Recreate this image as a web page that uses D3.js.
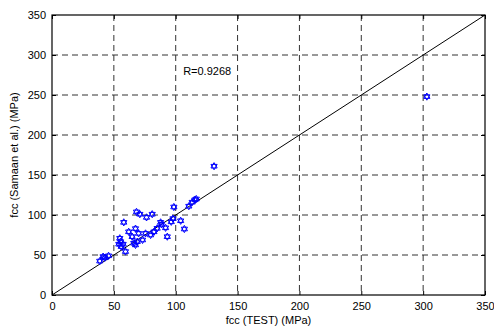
<!DOCTYPE html>
<html>
<head>
<meta charset="utf-8">
<script src="https://cdn.jsdelivr.net/npm/d3@7"></script>
<style>
  body { margin: 0; background: #fff; }
  svg { display: block; font-family: "Liberation Sans", Arial, sans-serif; }
</style>
</head>
<body>
<svg id="chart"></svg>
<script>
// measured fcc (TEST) and predicted fcc (Samaan et al.), MPa
const testVals = [38.6, 41.3, 42.7, 45.7, 54, 54.8, 55.4, 56, 57.5, 58, 59.4,
  62, 64.8, 66.1, 67.5, 67.5, 68.3, 68.9, 70, 71, 73.2, 75.6, 76.4, 79.7, 81,
  82.4, 85, 87.8, 88.6, 91.8, 93.2, 96.4, 97.8, 98.5, 104, 107, 110.6, 113.3,
  115.5, 116.6, 131, 303]
const predVals = [42.4, 48, 46.5, 49, 63.5, 70.9, 66.7, 60.5, 63.5, 90.8, 54.3,
  79, 72.9, 64.7, 62.6, 83, 103.9, 66.7, 77, 101, 68.8, 77, 97, 75, 101,
  79, 83.3, 90.8, 88.3, 84, 72.9, 91.5, 95.5, 110, 92.8, 82.5, 111, 116,
  119, 120, 161, 248]
const tickVals = [0, 50, 100, 150, 200, 250, 300, 350]
const rLabel = 'R=0.9268'
const xTitle = 'fcc (TEST) (MPa)'
const yTitle = 'fcc (Samaan et al.) (MPa)'

const points = testVals.map((t, i) => ({ x: t, y: predVals[i] }))

const W = 494, H = 328
const margin = { top: 15, right: 9, bottom: 33, left: 52 }
const iw = W - margin.left - margin.right
const ih = H - margin.top - margin.bottom

const $svg = d3.select('#chart').attr('width', W).attr('height', H)
const $g = $svg.append('g').attr('transform', `translate(${margin.left},${margin.top})`)

const scaleX = d3.scaleLinear().domain([0, 350]).range([0, iw])
const scaleY = d3.scaleLinear().domain([0, 350]).range([ih, 0])

// dashed grid
$g.append('g').selectAll('line.gx')
  .data(tickVals.slice(1, -1))
  .join('line')
  .attr('x1', d => scaleX(d)).attr('x2', d => scaleX(d))
  .attr('y1', 0).attr('y2', ih)
  .attr('stroke', '#333').attr('stroke-width', 1)
  .attr('stroke-dasharray', '6,4')
$g.append('g').selectAll('line.gy')
  .data(tickVals.slice(1, -1))
  .join('line')
  .attr('y1', d => scaleY(d)).attr('y2', d => scaleY(d))
  .attr('x1', 0).attr('x2', iw)
  .attr('stroke', '#333').attr('stroke-width', 1)
  .attr('stroke-dasharray', '6,4')

// axes
const styleAxis = sel => {
  sel.select('.domain').remove()
  sel.selectAll('text').attr('font-size', 11).attr('fill', '#000')
    .attr('font-family', '"Liberation Sans", Arial, sans-serif')
  sel.selectAll('line').attr('stroke', '#000')
}
$g.append('g').attr('transform', `translate(0,${ih})`)
  .call(d3.axisBottom(scaleX).tickValues(tickVals).tickSizeInner(-4).tickSizeOuter(0).tickPadding(7))
  .call(styleAxis)
$g.append('g')
  .call(d3.axisLeft(scaleY).tickValues(tickVals).tickSizeInner(-4).tickSizeOuter(0).tickPadding(6))
  .call(styleAxis)
$g.append('g')
  .call(d3.axisTop(scaleX).tickValues(tickVals).tickSizeInner(-4).tickSizeOuter(0).tickFormat(''))
  .call(styleAxis)
$g.append('g').attr('transform', `translate(${iw},0)`)
  .call(d3.axisRight(scaleY).tickValues(tickVals).tickSizeInner(-4).tickSizeOuter(0).tickFormat(''))
  .call(styleAxis)

// frame
$g.append('rect')
  .attr('width', iw).attr('height', ih)
  .attr('fill', 'none').attr('stroke', '#000').attr('stroke-width', 1.2)

// y = x line
$g.append('line')
  .attr('x1', scaleX(0)).attr('y1', scaleY(0))
  .attr('x2', scaleX(350)).attr('y2', scaleY(350))
  .attr('stroke', '#000').attr('stroke-width', 1)

// hexagram markers
const r = 3.6
const tri = a => d3.range(3).map(k => {
  const ang = a + k * 2 * Math.PI / 3
  return [r * Math.cos(ang), r * Math.sin(ang)]
})
const hexPath = 'M' + tri(-Math.PI / 2).join('L') + 'Z' + 'M' + tri(Math.PI / 2).join('L') + 'Z'

$g.append('g').selectAll('path')
  .data(points)
  .join('path')
  .attr('transform', d => `translate(${scaleX(d.x)},${scaleY(d.y)})`)
  .attr('d', hexPath)
  .attr('fill', 'none')
  .attr('stroke', '#0000ff')
  .attr('stroke-width', 1)

// R label
$g.append('text')
  .attr('x', scaleX(106)).attr('y', scaleY(275))
  .attr('font-size', 11)
  .text(rLabel)

// titles
$svg.append('text')
  .attr('x', margin.left + iw / 2).attr('y', H - 4)
  .attr('text-anchor', 'middle').attr('font-size', 11)
  .text(xTitle)
$svg.append('text')
  .attr('transform', `translate(18,${margin.top + ih / 2}) rotate(-90)`)
  .attr('text-anchor', 'middle').attr('font-size', 11)
  .text(yTitle)
</script>
</body>
</html>
